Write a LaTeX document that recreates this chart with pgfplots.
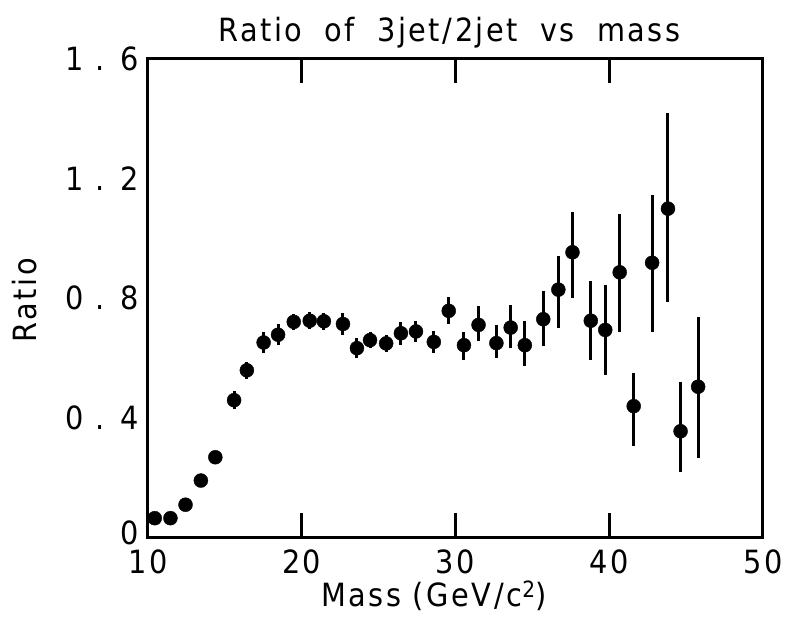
\documentclass[border=0pt]{standalone}
\usepackage{fontspec}
\setmainfont{DejaVu Sans}[FakeStretch=0.9, LetterSpace=8]
\newfontfamily\titlefont{DejaVu Sans}[FakeStretch=0.9, LetterSpace=8, WordSpace=1.9]
\usepackage{pgfplots}
\pgfplotsset{compat=1.18}
\pgfplotstableread{
x y ep em
10.44 0.063 0.010 0.010
11.46 0.063 0.010 0.010
12.44 0.108 0.012 0.012
13.44 0.189 0.015 0.015
14.38 0.267 0.018 0.018
15.60 0.458 0.030 0.030
16.43 0.558 0.029 0.029
17.52 0.651 0.034 0.034
18.46 0.677 0.035 0.035
19.48 0.720 0.027 0.027
20.52 0.724 0.028 0.028
21.44 0.722 0.028 0.028
22.68 0.713 0.037 0.037
23.59 0.632 0.033 0.033
24.44 0.659 0.027 0.027
25.49 0.648 0.029 0.029
26.45 0.682 0.039 0.039
27.43 0.688 0.036 0.036
28.59 0.653 0.038 0.038
29.56 0.757 0.045 0.045
30.55 0.642 0.043 0.050
31.50 0.710 0.062 0.054
32.66 0.649 0.060 0.049
33.59 0.701 0.075 0.070
34.51 0.642 0.082 0.070
35.71 0.729 0.094 0.089
36.69 0.828 0.111 0.128
37.61 0.953 0.135 0.154
38.80 0.724 0.133 0.130
39.74 0.693 0.152 0.152
40.68 0.886 0.194 0.201
41.59 0.438 0.112 0.134
42.79 0.918 0.226 0.233
43.82 1.099 0.319 0.314
44.64 0.354 0.165 0.136
45.78 0.503 0.232 0.238
}\ratiodata
\begin{document}
\begin{tikzpicture}
\begin{axis}[
  scale only axis, width=615pt, height=478pt,
  xmin=10, xmax=50, ymin=0, ymax=1.6,
  xtick={10,20,30,40,50}, xticklabels={10,20,30,40,50},
  ytick={0,0.4,0.8,1.2,1.6}, yticklabels={\raisebox{8pt}{0},0 . 4,0 . 8,1 . 2,1 . 6},
  minor ytick={0.2,0.4,0.6,0.8,1.0,1.2,1.4},
  tick align=inside,
  major tick length=24pt, minor tick length=17pt,
  every tick/.style={black, line width=3pt},
  ytick style={draw=none},
  minor tick style={black, line width=3pt},
  axis line style={line width=3pt},
  ticklabel style={font=\fontsize{32}{36}\selectfont},
  yticklabel style={xshift=-6pt},
  xticklabel style={yshift=-9pt},
  title={Ratio of 3jet/2jet vs mass},
  title style={font=\titlefont\fontsize{32}{36}\selectfont, at={(axis description cs:0.49,1)}, anchor=base, yshift=11pt},
  xlabel={Mass (GeV/c\textsuperscript{2})},
  xlabel style={font=\fontsize{32}{36}\selectfont, at={(axis description cs:0.465,-0.122)}, anchor=center},
  ylabel={Ratio},
  ylabel style={font=\fontsize{32}{36}\selectfont, at={(axis description cs:-0.2,0.495)}, anchor=center},
  clip=false,
]
\addplot[only marks, mark=*, mark size=7pt, black,
  error bars/.cd, y dir=both, y explicit, error mark=none,
  error bar style={line width=3pt, black}]
  table[x=x, y=y, y error plus=ep, y error minus=em] {\ratiodata};
\end{axis}
\pgfresetboundingbox
\path (current axis.south west) ++(-148pt,-87pt) rectangle ++(785pt,624pt);
\end{tikzpicture}
\end{document}
